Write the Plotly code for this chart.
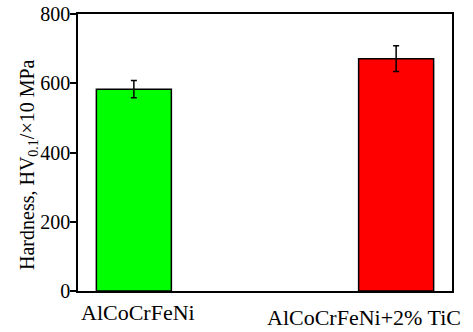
import plotly.graph_objects as go

categories = ["AlCoCrFeNi", "AlCoCrFeNi+2% TiC"]
hardness = [583, 671]
errors = [25, 37]
colors = ["#00FF00", "#FF0000"]
yticks = [0, 200, 400, 600, 800]
ytitle = "Hardness, HV<sub>0.1</sub>/×10 MPa"

FONT = "'Times New Roman', 'Liberation Serif', Times, serif"
xpos = list(range(len(categories)))

fig = go.Figure()
fig.add_trace(go.Bar(
    x=xpos, y=hardness, width=0.286,
    marker=dict(color=colors, line=dict(color="black", width=1.5)),
    error_y=dict(type="data", array=errors, visible=True, color="black",
                 thickness=1.5, width=3),
    showlegend=False,
))

label_shift = [4, -32]
label_y = [-0.128, -0.143]
for i, c in enumerate(categories):
    fig.add_annotation(x=xpos[i], xref="x", y=label_y[i], yref="paper",
                       text=c, showarrow=False, xshift=label_shift[i],
                       yanchor="bottom", xanchor="center", borderpad=0,
                       font=dict(family=FONT, size=22, color="black"))

fig.add_annotation(x=-0.131, xref="paper", y=0.455, yref="paper",
                   text=ytitle, textangle=-90, showarrow=False,
                   xanchor="center", yanchor="middle",
                   font=dict(family=FONT, size=20, color="black"))

fig.update_layout(
    width=473, height=332,
    margin=dict(l=78, r=20.5, t=14, b=41, autoexpand=False),
    paper_bgcolor="white", plot_bgcolor="white",
    font=dict(family=FONT, size=20, color="black"),
    xaxis=dict(range=[-0.213, 1.213], showticklabels=False, ticks="",
               showgrid=False, zeroline=False, showline=True,
               linecolor="black", linewidth=1.5, mirror=True, fixedrange=True),
    yaxis=dict(range=[0, 800], tickvals=yticks, ticks="outside", ticklen=6,
               tickwidth=1.5, tickcolor="black", showgrid=False, zeroline=False,
               showline=True, linecolor="black", linewidth=1.5, mirror=True,
               ticklabelstandoff=-4, fixedrange=True,
               tickfont=dict(family=FONT, size=20, color="black")),
)

fig.write_html("out.html", config={"displayModeBar": False},
               post_script="document.body.style.margin='0';document.body.style.overflow='hidden';")
